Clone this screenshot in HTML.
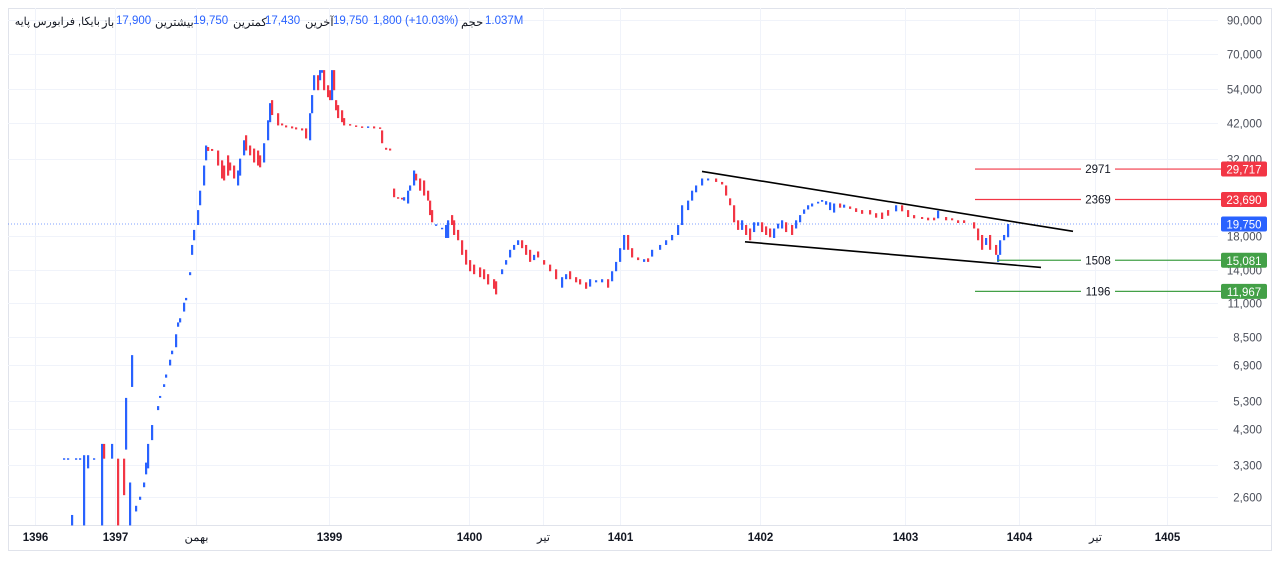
<!DOCTYPE html>
<html><head><meta charset="utf-8">
<style>
html,body{margin:0;padding:0;background:#fff;}
body{width:1280px;height:561px;overflow:hidden;position:relative;font-family:"Liberation Sans","Noto Sans CJK SC",sans-serif;}
#legend{position:absolute;left:0;top:15px;height:16px;font-size:11.5px;color:#131722;}
#legend span{position:absolute;white-space:nowrap;unicode-bidi:isolate;}
.num{color:#2962ff;}
</style></head>
<body>
<svg id="chart" width="1280" height="561" style="position:absolute;left:0;top:0"></svg>
<div id="legend">
  <span style="left:14px;width:86px;text-align:right;font-size:11px" dir="rtl">بایکا, فرابورس پایه</span>
  <span style="left:102px">باز</span>
  <span class="num" style="left:116px">17,900</span>
  <span style="left:155px">بیشترین</span>
  <span class="num" style="left:193px">19,750</span>
  <span style="left:233px">کمترین</span>
  <span class="num" style="left:265px">17,430</span>
  <span style="left:305px">آخرین</span>
  <span class="num" style="left:333px">19,750</span>
  <span class="num" style="left:373px">1,800 (+10.03%)</span>
  <span style="left:461px">حجم</span>
  <span class="num" style="left:485px">1.037M</span>
</div>
<script>
const priceTicks=[90000,70000,54000,42000,32000,18000,14000,11000,8500,6900,5300,4300,3300,2600];
const timeLabels=["1396","1397","بهمن","1399","1400","تیر","1401","1402","1403","1404","تیر","1405"];
const timeLabelSessions=[3.5,43.5,84,150.5,220.5,257.5,296,366,438.5,495.5,533.5,569.5];
const timeLabelBold=[1,1,0,1,1,0,1,1,1,1,0,1];
const sessions=[18,20,22,24,26,28,30,33,37,38,42,45,48,49,51,52,54,56,58,59,60,62,65,66,68,69,71,72,74,75,76,78,79,81,82,83,85,86,88,89,90,92,95,97,98,100,101,103,105,106,108,109,111,113,115,116,118,120,121,122,125,127,129,132,134,137,139,141,142,143,145,146,147,148,150,151,152,153,154,155,157,158,161,164,167,170,173,176,177,179,181,183,185,187,188,190,191,193,194,196,198,200,201,202,204,207,209,210,212,213,215,217,219,221,223,226,228,230,233,234,237,239,241,243,245,247,249,251,253,255,258,261,264,267,269,271,274,276,279,281,284,287,290,292,294,296,298,300,302,305,308,310,312,316,319,322,325,327,330,332,334,337,340,344,347,349,351,353,355,357,359,361,363,365,367,369,371,373,375,377,379,382,384,386,388,390,392,395,397,399,401,403,406,408,411,414,417,421,424,427,430,434,437,440,443,447,450,453,455,459,462,465,468,473,475,477,479,481,484,485,486,488,490];
const opens=[3440,3450,2100,3440,3450,2100,3210,3450,2100,3850,3450,3450,3450,3690,2100,5880,2330,2540,2790,3070,3210,3960,4950,5420,5880,6300,6900,7500,7900,9200,9500,10300,11200,13500,15700,17500,19600,22700,26300,31700,35000,34500,34100,31700,30500,32900,31200,30500,26300,28300,32900,38200,35400,34600,34100,32900,31200,36800,42100,49600,45000,41700,41100,40800,40500,40200,40200,36800,45000,53400,59700,57500,60800,62000,55400,53400,49600,62000,49600,47800,46000,43400,41500,41100,40800,40500,40800,40500,39600,34800,34600,25700,24100,24000,23500,23000,25300,26300,28700,27700,27300,25300,23500,21900,19500,19000,17800,17800,21100,20300,18900,17500,16300,15100,14600,14300,14100,13600,13100,12900,13600,14600,15400,16300,16900,17500,16900,16300,15100,16100,15100,14600,14100,12300,13100,13900,13300,13100,12800,12400,12800,12800,13100,12900,13900,14900,16300,18200,16500,15400,14900,15300,15500,16300,16900,17500,18200,19600,21900,23500,25000,26300,27300,27700,27000,26300,23900,22700,20300,18900,19600,19100,18600,19500,20000,19400,19100,17800,19100,19100,20000,19600,19100,20000,21300,22000,22500,23000,23300,22800,21900,21500,23000,22300,22500,22200,21900,21900,21400,21500,21900,21700,22700,21900,21100,20800,20700,20700,20600,20800,20600,20300,20300,20000,19100,18200,16900,18200,16900,14900,15700,17500,17900];
const closes=[3460,3460,2270,3460,3460,3540,3540,3460,3850,3450,3850,2100,2630,5420,2890,7450,2430,2600,2890,3350,3850,4430,5100,5500,6000,6450,7200,7700,8700,9500,9800,11000,11400,13800,16900,18900,21900,25300,30500,35400,34000,34000,30500,27700,27300,28300,29400,27700,29400,32100,36800,34100,32900,31200,30500,30100,36000,42700,48500,44400,41100,41100,40500,40200,39900,39600,37300,45000,51500,59700,53400,62000,62000,53400,50700,49600,62000,53400,46000,43400,42100,41100,41100,40800,40500,40800,40200,40200,36000,34300,34100,24100,23900,23700,24100,25300,26300,29400,27300,25300,24400,23500,21100,20000,19700,19200,19600,20300,19600,18200,17500,15700,14600,13900,13600,13300,13100,12600,12200,11700,14100,15100,16300,16900,17500,16500,15700,14900,15700,15400,14600,13900,13100,13300,13600,13100,12800,12600,12200,13100,13000,13100,12300,13900,14900,16500,18200,16300,15400,15100,15200,14900,16300,16900,17500,18200,19600,22700,23500,25300,26300,27700,27700,27000,26500,24400,22700,20000,18900,20300,18200,17500,20000,20000,18600,18200,17900,19100,19800,20300,18600,18200,20300,21100,22000,22700,23000,23300,23600,23400,23200,23000,22300,22800,22100,21600,21300,21200,20700,20500,21000,22700,21700,20800,20600,20500,20300,20300,21800,20300,20300,19900,19900,19100,17500,16300,17800,16300,15700,15700,17500,18200,19750];
const levelPrices=[29717,23690,15081,11967];
const levelNotes=["2971","2369","1508","1196"];
const levelKinds=["resist","resist","support","support"];
const lastPrice=19750;
const upperTrendS=[337,522.5], upperTrendP=[29200,18700];
const lowerTrendS=[358.5,506.5], lowerTrendP=[17300,14300];

const NS="http://www.w3.org/2000/svg";
const svg=document.getElementById('chart');
const PL=8,PR=1218,PT=8,PB=525;
function yS(p){return 20+(Math.log(90000)-Math.log(p))*134.5;}
function xS(s){return 28+2*s;}
function el(tag,attrs,parent){const e=document.createElementNS(NS,tag);for(const k in attrs)e.setAttribute(k,attrs[k]);(parent||svg).appendChild(e);return e;}
function fmt(v){return v.toLocaleString('en-US');}

const frame=el('rect',{x:8.5,y:8.5,width:1263,height:542,fill:'none',stroke:'#e0e3eb'});


const axisLine=el('line',{x1:8,x2:1272,y1:525.5,y2:525.5,stroke:'#e0e3eb'});



priceTicks.forEach(p=>{
  const y=Math.round(yS(p))+0.5;
  const g=el('line',{x1:PL,x2:PR,y1:y,y2:y,stroke:'#f0f3fa'});
  
  
  const t=el('text',{x:1262,y:y+4,'text-anchor':'end','font-size':'11.5',fill:'#4a4e59'});
  t.textContent=fmt(p);
  
  
});
timeLabels.forEach((lab,i)=>{
  const x=Math.round(xS(timeLabelSessions[i]))+0.5;
  const g=el('line',{x1:x,x2:x,y1:PT,y2:PB,stroke:'#f0f3fa'});
  
  
  const t=el('text',{x:x,y:541,'text-anchor':'middle','font-size':'11.5','font-weight':timeLabelBold[i]?'bold':'normal',fill:'#131722'});
  t.textContent=lab;
  
  
});

const ly=yS(lastPrice);
const lpl=el('line',{x1:PL,x2:PR,y1:ly,y2:ly,stroke:'#2962ff','stroke-opacity':'0.6','stroke-dasharray':'1,2'});



sessions.forEach((s,i)=>{
  const o=opens[i],c=closes[i];
  const up=c>=o;
  const y1=yS(Math.max(o,c)),y2=yS(Math.min(o,c));
  const r=el('rect',{x:xS(s)-1,y:y1,width:2.2,height:Math.max(1.5,y2-y1),fill:up?'#2962ff':'#f23645'});
  
  
});

const tu=el('line',{x1:xS(upperTrendS[0]),y1:yS(upperTrendP[0]),x2:xS(upperTrendS[1]),y2:yS(upperTrendP[1]),stroke:'#000','stroke-width':'1.6'});


const tl=el('line',{x1:xS(lowerTrendS[0]),y1:yS(lowerTrendP[0]),x2:xS(lowerTrendS[1]),y2:yS(lowerTrendP[1]),stroke:'#000','stroke-width':'1.6'});



levelPrices.forEach((p,i)=>{
  const y=yS(p);
  const col=levelKinds[i]==='resist'?'#f23645':'#43a047';
  const x0=(i===2)?997:975;
  const a=el('line',{x1:x0,x2:1081,y1:y,y2:y,stroke:col,'stroke-width':'1.2'});
  
  
  const b=el('line',{x1:1115,x2:1222,y1:y,y2:y,stroke:col,'stroke-width':'1.2'});
  
  
  const t=el('text',{x:1098,y:y+4,'text-anchor':'middle','font-size':'11.5',fill:'#131722'});
  t.textContent=levelNotes[i];
  
  
  const bx=el('rect',{x:1221,y:y-7.5,width:46,height:15,rx:2,fill:col});
  
  
  const bt=el('text',{x:1244,y:y+4.5,'text-anchor':'middle','font-size':'11.5',fill:'#fff'});
  bt.textContent=fmt(p);
  
  
});
const lb=el('rect',{x:1221,y:ly-7.5,width:46,height:15,rx:2,fill:'#2962ff'});


const lbt=el('text',{x:1244,y:ly+4.5,'text-anchor':'middle','font-size':'11.5',fill:'#fff'});
lbt.textContent=fmt(lastPrice);


</script>
</body></html>
